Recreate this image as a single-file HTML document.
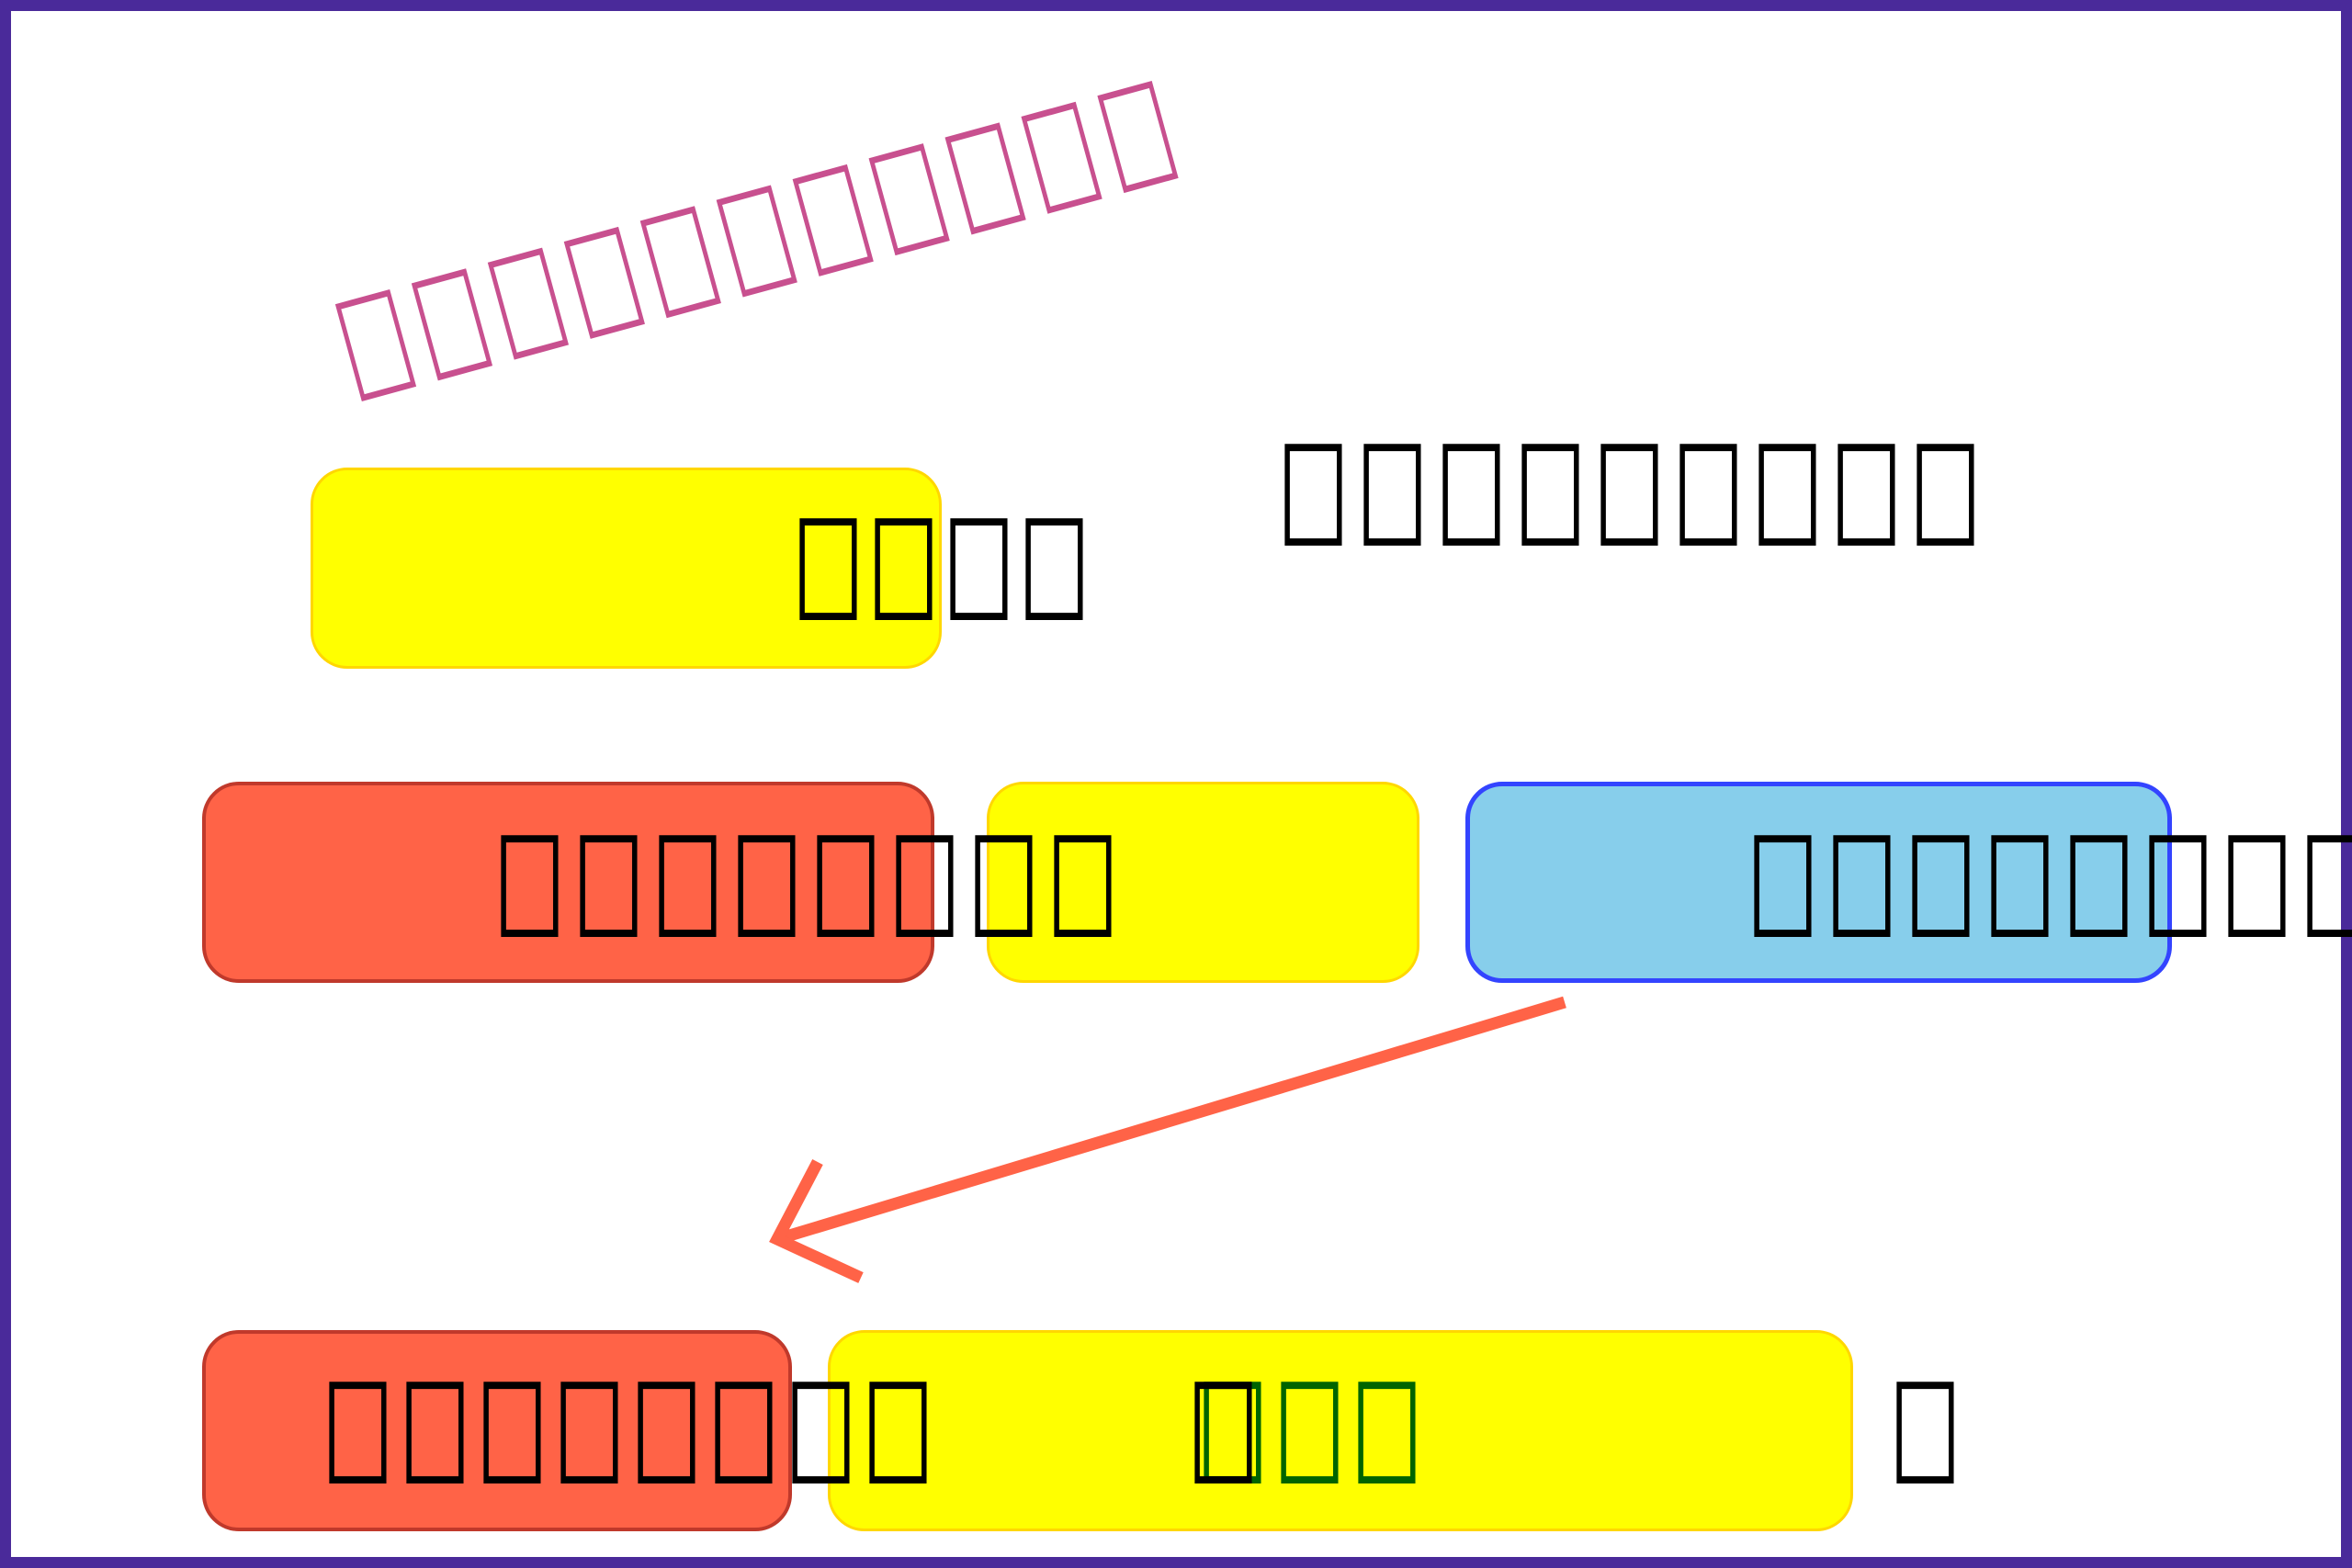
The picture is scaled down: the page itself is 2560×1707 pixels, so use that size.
<!DOCTYPE html>
<html><head><meta charset="utf-8"><style>
html,body{margin:0;padding:0;width:2560px;height:1707px;overflow:hidden;background:#fff}
.frame{position:absolute;left:0;top:0;width:2536px;height:1683px;border:12px solid #4a2a9a;}
.b{position:absolute;box-sizing:border-box;border-radius:40px}
.t{position:absolute;font-family:"Liberation Sans",sans-serif;font-size:158px;line-height:158px;white-space:nowrap;color:#000;font-weight:bold;-webkit-text-stroke:2px currentColor}
.t span{display:inline-block;width:86px;text-align:left}
.t i{display:inline-block;font-style:normal;transform:scaleX(.7);transform-origin:0 0}
</style></head><body>
<div class="frame"></div>
<div class="b" style="left:338px;top:509px;width:687px;height:219px;background:#ffff00;border:3px solid #ffd700"></div>
<div class="b" style="left:220px;top:851px;width:797px;height:219px;background:#ff6347;border:4px solid #c0392b"></div>
<div class="b" style="left:1074px;top:851px;width:471px;height:219px;background:#ffff00;border:3px solid #ffd700"></div>
<div class="b" style="left:1595px;top:851px;width:769px;height:219px;background:#87ceeb;border:5px solid #3344ff"></div>
<div class="b" style="left:220px;top:1448px;width:642px;height:219px;background:#ff6347;border:4px solid #c0392b"></div>
<div class="b" style="left:901px;top:1448px;width:1116px;height:219px;background:#ffff00;border:3px solid #ffd700"></div>
<svg style="position:absolute;left:0;top:0" width="2560" height="1707">
<g stroke="#ff6347" stroke-width="13" fill="none" stroke-linecap="butt">
<line x1="1703" y1="1091" x2="846" y2="1349"/>
<polyline points="890,1265 846,1349 937,1391"/>
</g></svg>
<div class="t" style="left:386px;top:306px;color:#c8508f;font-weight:normal;-webkit-text-stroke:1px #c8508f;transform-origin:0 143px;transform:rotate(-15.3deg)"><span><i>&#xF0000;</i></span><span><i>&#xF0001;</i></span><span><i>&#xF0002;</i></span><span><i>&#xF0003;</i></span><span><i>&#xF0004;</i></span><span><i>&#xF0005;</i></span><span><i>&#xF0006;</i></span><span><i>&#xF0007;</i></span><span><i>&#xF0008;</i></span><span><i>&#xF0009;</i></span><span><i>&#xF000A;</i></span></div>
<div class="t" style="left:860px;top:541px;"><span style="width:82px"><i>&#xF0000;</i></span><span style="width:82px"><i>&#xF0001;</i></span><span style="width:82px"><i>&#xF0002;</i></span><span style="width:82px"><i>&#xF0003;</i></span></div>
<div class="t" style="left:1388px;top:460px;"><span><i>&#xF0000;</i></span><span><i>&#xF0001;</i></span><span><i>&#xF0002;</i></span><span><i>&#xF0003;</i></span><span><i>&#xF0004;</i></span><span><i>&#xF0005;</i></span><span><i>&#xF0006;</i></span><span><i>&#xF0007;</i></span><span><i>&#xF0008;</i></span></div>
<div class="t" style="left:535px;top:886px;"><span><i>&#xF0000;</i></span><span><i>&#xF0001;</i></span><span><i>&#xF0002;</i></span><span><i>&#xF0003;</i></span><span><i>&#xF0004;</i></span><span><i>&#xF0005;</i></span><span><i>&#xF0006;</i></span><span><i>&#xF0007;</i></span></div>
<div class="t" style="left:1899px;top:886px;"><span><i>&#xF0000;</i></span><span><i>&#xF0001;</i></span><span><i>&#xF0002;</i></span><span><i>&#xF0003;</i></span><span><i>&#xF0004;</i></span><span><i>&#xF0005;</i></span><span><i>&#xF0006;</i></span><span><i>&#xF0007;</i></span></div>
<div class="t" style="left:348px;top:1481px;"><span style="width:84px"><i>&#xF0000;</i></span><span style="width:84px"><i>&#xF0001;</i></span><span style="width:84px"><i>&#xF0002;</i></span><span style="width:84px"><i>&#xF0003;</i></span><span style="width:84px"><i>&#xF0004;</i></span><span style="width:84px"><i>&#xF0005;</i></span><span style="width:84px"><i>&#xF0006;</i></span><span style="width:84px"><i>&#xF0007;</i></span></div>
<div class="t" style="left:1300px;top:1481px;color:#006400"><span style="width:84px"><i>&#xF0000;</i></span><span style="width:84px"><i>&#xF0001;</i></span><span style="width:84px"><i>&#xF0002;</i></span></div>
<div class="t" style="left:1290px;top:1481px;"><span><i>&#xF0000;</i></span></div>
<div class="t" style="left:2054px;top:1481px;"><span><i>&#xF0000;</i></span></div>
</body></html>
